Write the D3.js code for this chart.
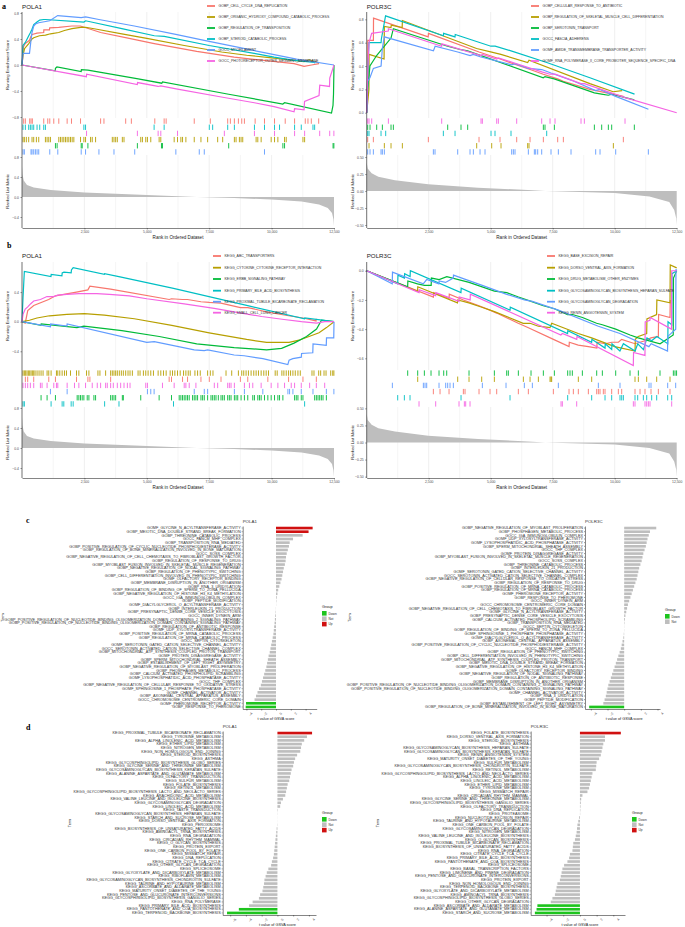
<!DOCTYPE html>
<html><head><meta charset="utf-8">
<script src="https://cdn.jsdelivr.net/npm/d3@7"></script>
<style>body{margin:0;background:#fff} svg{font-family:"Liberation Sans",Arial,sans-serif}</style>
</head><body>
<svg width="685" height="927"></svg>
<script>
var colors = ["#F8766D", "#B79F00", "#00BA38", "#00BFC4", "#619CFF", "#F564E3"];
var rankTicks = [2500, 5000, 7500, 10000, 12500];

// ---------- ranked list metric (shared by a and b) ----------
var metricPola = [[0,0.62],[20,0.45],[70,0.33],[200,0.24],[470,0.19],[1150,0.14],[2500,0.09],[4500,0.05],[6000,0.02],[7000,0.0],[8500,-0.02],[10000,-0.05],[11200,-0.09],[11900,-0.15],[12250,-0.22],[12420,-0.32],[12480,-0.45],[12500,-0.58]];
var metricPolr3c = [[0,0.42],[40,0.33],[200,0.26],[470,0.21],[1140,0.16],[2480,0.1],[4490,0.05],[6500,0.015],[7200,0],[10000,-0.03],[11400,-0.08],[12200,-0.16],[12400,-0.28],[12480,-0.4],[12500,-0.5]];

// ---------- a: POLA1 GO ----------
var polaGoSets = ["GOBP_CELL_CYCLE_DNA_REPLICATION","GOBP_ORGANIC_HYDROXY_COMPOUND_CATABOLIC_PROCESS","GOBP_REGULATION_OF_TRANSPOSITION","GOBP_STEROID_CATABOLIC_PROCESS","GOCC_MYOFILAMENT","GOCC_PHOTORECEPTOR_OUTER_SEGMENT_MEMBRANE"];
var polaGoES = [
  [[0,0],[60,0.28],[130,0.33],[300,0.38],[360,0.44],[410,0.47],[600,0.49],[870,0.5],[875,0.54],[1100,0.54],[1110,0.57],[1470,0.58],[2000,0.6],[2340,0.6],[3150,0.5],[4150,0.42],[5300,0.33],[7000,0.21],[8500,0.12],[9700,0.07],[10900,0.02],[11300,-0.02],[11600,0.0],[11900,0.02]],
  [[0,0],[40,0.15],[100,0.25],[270,0.33],[400,0.4],[470,0.42],[700,0.45],[940,0.46],[1140,0.48],[1470,0.5],[1700,0.53],[2000,0.56],[2350,0.58],[2550,0.58],[3000,0.55],[4000,0.48],[5000,0.41],[6500,0.3],[8000,0.2],[9000,0.15],[10000,0.11],[10500,0.09],[11300,0.05],[11500,0.08],[11900,0.03]],
  [[0,0],[1330,-0.09],[1340,-0.05],[1400,-0.03],[2370,-0.1],[2380,-0.07],[2640,-0.08],[4600,-0.21],[5600,-0.28],[5630,-0.26],[8280,-0.45],[10450,-0.6],[10520,-0.58],[12400,-0.74],[12460,-0.62],[12480,-0.45],[12500,0]],
  [[0,0],[40,0.3],[140,0.35],[270,0.45],[340,0.5],[400,0.55],[470,0.62],[600,0.66],[710,0.69],[870,0.7],[940,0.7],[2480,0.66],[2550,0.68],[4000,0.56],[5300,0.45],[5700,0.44],[7500,0.3],[9300,0.18],[10100,0.12],[10900,0.07],[11200,0.06],[11700,0.04],[11750,0.03]],
  [[0,0],[40,0.18],[300,0.18],[360,0.38],[400,0.5],[470,0.6],[540,0.63],[670,0.65],[1110,0.68],[1430,0.76],[2370,0.73],[2550,0.74],[3080,0.7],[4500,0.6],[6160,0.47],[7300,0.38],[9700,0.19],[11000,0.09],[12500,0]],
  [[0,0],[2580,-0.18],[2590,-0.14],[4620,-0.3],[4630,-0.27],[5450,-0.33],[5560,-0.32],[6230,-0.37],[8100,-0.5],[9310,-0.58],[10100,-0.64],[10900,-0.72],[10920,-0.67],[11300,-0.69],[11320,-0.56],[11900,-0.47],[11930,-0.31],[12320,-0.33],[12330,-0.2],[12500,0]]
];
var polaGoHits = [
  [67,134,308,362,415,871,1032,1112,1273,1474,1809,1983,2345,3149,3283,4154,4382,5320,5695,5775,6901,7544,8241,8348,8509,8670,8804,8911,9340,9715,10117,10546,10921,11350,11457,11591,11886],
  [40,94,174,268,402,469,576,670,938,1005,1072,1139,1474,1541,1608,1675,1742,1809,1876,1943,2010,2077,2345,2479,2546,2747,2814,2948,3618,3685,3752,3819,4020,4087,4757,4824,4958,5025,5159,5494,5561,6097,6231,6365,6432,6566,6901,7169,7437,7839,8040,8509,8576,8710,8777,8844,9380,9447,9581,9983,10117,10251,10519,10586,11256,11323],
  [1340,1407,2372,2412,2640,4623,5588,5628,8281,10452,10519,12462,12495],
  [40,134,268,335,402,469,603,710,871,938,2479,2546,5293,5695,7504,7638,8241,8509,9313,9715,10117,10318,10921,11189,11658,11725],
  [40,94,362,402,469,536,603,670,1112,1434,2372,2546,3082,3685,4516,6164,7102,7303,9715],
  [2586,4623,5454,5561,6231,8107,9313,10117,10921,11323,11926,12328,12495]
];
var polaGoRows = [0, 3, 5, 1, 2, 4];

// ---------- a: POLR3C GO ----------
var polr3cGoSets = ["GOBP_CELLULAR_RESPONSE_TO_ANTIBIOTIC","GOBP_REGULATION_OF_SKELETAL_MUSCLE_CELL_DIFFERENTIATION","GOBP_SEROTONIN_TRANSPORT","GOCC_FASCIA_ADHERENS","GOMF_AMIDE_TRANSMEMBRANE_TRANSPORTER_ACTIVITY","GOMF_RNA_POLYMERASE_II_CORE_PROMOTER_SEQUENCE_SPECIFIC_DNA"];
var polr3cGoES = [
  [[0,0],[40,0.33],[45,0.62],[270,0.62],[275,0.81],[2480,0.65],[2490,0.68],[4530,0.52],[5380,0.46],[6050,0.41],[6590,0.37],[7120,0.33],[7700,0.29],[7930,0.27],[9000,0.2],[10350,0.14]],
  [[0,0],[90,0.2],[95,0.5],[700,0.46],[712,0.74],[980,0.73],[990,0.75],[1430,0.73],[1440,0.79],[4430,0.55],[5040,0.52],[5410,0.5],[6490,0.43],[6545,0.45],[9000,0.25],[9940,0.18],[10300,0.19]],
  [[0,0],[40,0.2],[130,0.4],[400,0.49],[630,0.55],[980,0.64],[1075,0.72],[3260,0.57],[3800,0.54],[4070,0.53],[7120,0.3],[7190,0.31],[7560,0.29],[9180,0.17],[9470,0.16],[9740,0.15],[9880,0.16],[10790,0.11]],
  [[0,0],[40,0.3],[90,0.6],[580,0.6],[590,0.63],[760,0.83],[3090,0.66],[3100,0.68],[3560,0.65],[3570,0.67],[5010,0.57],[5180,0.57],[5820,0.53],[7260,0.43],[9000,0.3],[10800,0.16]],
  [[0,0],[40,0.27],[130,0.3],[270,0.38],[580,0.4],[630,0.55],[710,0.65],[2690,0.53],[2760,0.57],[3670,0.52],[4170,0.49],[4300,0.5],[4570,0.48],[5850,0.41],[5980,0.42],[6520,0.38],[7060,0.37],[7430,0.34],[8240,0.28],[9230,0.19],[9400,0.2],[10040,0.14],[11360,0.03]],
  [[0,0],[40,0.35],[95,0.6],[200,0.68],[870,0.7],[875,0.72],[3020,0.57],[3030,0.59],[4610,0.49],[4660,0.5],[5240,0.46],[5310,0.47],[6050,0.42],[7060,0.35],[7390,0.33],[7600,0.33],[8640,0.25],[8780,0.25],[10420,0.13],[12500,0]]
];
var polr3cGoHits = [
  [40,269,2486,4529,5376,6048,6586,7123,7701,7930,10349],
  [94,712,981,1438,4435,5040,5416,6491,6545,9946],
  [40,134,403,632,981,1075,3266,3803,4072,7123,7190,7567,9180,9475,9744,9878,10792],
  [40,94,578,766,3091,3562,5013,5174,5819,7258],
  [40,134,269,578,632,712,2688,2755,3669,4166,4301,4570,4771,5846,5914,5981,6518,6760,6814,6895,7056,7432,7728,8239,9233,9408,10040,11357],
  [40,94,202,874,3024,4610,4664,5242,5309,6048,7056,7392,7594,8642,8776,10416]
];
var polr3cGoRows = [5, 2, 3, 0, 1, 4];

// ---------- b: POLA1 KEGG ----------
var polaKeggSets = ["KEGG_ABC_TRANSPORTERS","KEGG_CYTOKINE_CYTOKINE_RECEPTOR_INTERACTION","KEGG_ERBB_SIGNALING_PATHWAY","KEGG_PRIMARY_BILE_ACID_BIOSYNTHESIS","KEGG_PROXIMAL_TUBULE_BICARBONATE_RECLAMATION","KEGG_SMALL_CELL_LUNG_CANCER"];
var polaKeggES = [
  [[0,0],[130,-0.02],[230,0.15],[470,0.22],[1070,0.3],[1340,0.35],[2180,0.4],[2640,0.43],[2720,0.48],[3550,0.44],[5900,0.3],[5990,0.31],[6430,0.3],[6630,0.3],[7170,0.27],[7500,0.26],[7970,0.25],[8750,0.19],[9050,0.19],[9850,0.13],[10680,0.08],[11260,0.05],[11780,0.01],[11790,0.04]],
  [[0,0],[300,0.02],[600,0.05],[1100,0.08],[1800,0.1],[2500,0.11],[3300,0.09],[4500,0.04],[6000,-0.05],[7500,-0.15],[9000,-0.24],[9800,-0.28],[10700,-0.28],[11100,-0.25],[11500,-0.2],[11900,-0.15],[12200,-0.08],[12500,0]],
  [[0,0],[760,-0.05],[770,-0.03],[2200,-0.08],[2480,-0.06],[4000,-0.12],[5500,-0.2],[7000,-0.3],[8500,-0.35],[9800,-0.38],[10400,-0.36],[10900,-0.29],[11400,-0.2],[11800,-0.1],[12000,0.02],[12500,0]],
  [[0,0],[40,0.32],[94,0.68],[1160,0.61],[1170,0.64],[1600,0.62],[1610,0.66],[1680,0.67],[1970,0.66],[1980,0.7],[2050,0.73],[3300,0.64],[3310,0.65],[3880,0.61],[6070,0.45],[9000,0.22],[11320,0.04],[11330,0.05],[12500,0]],
  [[0,0],[1140,-0.07],[1150,-0.03],[1800,-0.06],[1810,-0.03],[5000,-0.28],[5300,-0.27],[6900,-0.38],[7300,-0.39],[7440,-0.38],[8500,-0.45],[8900,-0.46],[9650,-0.5],[10650,-0.58],[10700,-0.52],[10850,-0.5],[11190,-0.48],[11200,-0.43],[11650,-0.42],[11660,-0.3],[12190,-0.32],[12200,-0.22],[12490,-0.22],[12500,0]],
  [[0,0],[40,0.1],[130,0.17],[230,0.2],[340,0.24],[470,0.28],[740,0.3],[1000,0.34],[1270,0.34],[1430,0.36],[1800,0.37],[2280,0.38],[3000,0.38],[3500,0.37],[4300,0.35],[5000,0.31],[6500,0.24],[7700,0.18],[8900,0.11],[9600,0.07],[10500,0.03],[11200,0.0],[11800,-0.02],[12130,0.0],[12500,0]]
];
var polaKeggHits = [
  [134,228,469,1072,1340,2184,2640,2720,3551,5896,5990,6432,6633,7169,7504,7973,8750,9045,9849,10680,11256,11792],
  [40,94,147,201,255,308,362,415,469,523,603,683,764,844,1005,1072,1166,1380,1434,1514,1608,1702,1782,1943,2184,2278,2586,2680,3042,3122,3350,3551,3618,3685,3752,3819,3899,3980,4060,4154,4248,4328,4422,4650,4730,4864,4958,5052,5159,5266,5454,5561,5668,5775,5936,6030,6124,6231,6338,6472,6566,6660,6740,6928,7035,7142,7437,7544,7651,8174,8402,8670,8804,8884,8978,9072,9179,9286,9380,9474,9581,9688,9782,9876,10144,10224,10412,10492,10586,10680,10760,10854,10948,11055,11149,11618,11698,11886,11966,12100,12181,12368,12449,12495],
  [764,1005,1340,2211,2278,2345,2412,2479,2613,2680,2881,2948,3551,3618,3685,3752,4020,4060,4757,5494,5990,6298,6365,6432,6499,6566,6633,6700,6834,6901,6968,7035,7169,7236,7303,7437,7571,7638,7705,7772,7866,7973,8040,8107,8241,8308,8375,8509,8576,8643,8777,8911,9045,9246,9313,9447,9514,9581,9715,9849,9983,10117,10251,10318,10452,10921,10988,11055,11189,11256,11725,11792,11859,11926,11993,12060,12194],
  [40,94,1166,1608,1675,1970,2050,3310,3886,6070,11323],
  [1139,1809,5025,5159,5293,6901,7303,7437,8509,8911,9648,10653,10720,10854,11189,11658,12194,12495],
  [40,134,228,335,469,737,804,1005,1273,1380,1434,1809,2103,2278,2546,2814,3015,3149,3350,3417,3551,3658,3819,3953,4087,4221,4328,4958,5025,5628,6097,6499,6566,6700,6968,7705,7839,8241,8308,8375,8509,8911,9112,9246,9581,9983,10251,10519,10787,10921,11189,11524,11792,12127]
];
var polaKeggRows = [1, 0, 5, 4, 2, 3];

// ---------- b: POLR3C KEGG ----------
var polr3cKeggSets = ["KEGG_BASE_EXCISION_REPAIR","KEGG_DORSO_VENTRAL_AXIS_FORMATION","KEGG_DRUG_METABOLISM_OTHER_ENZYMES","KEGG_GLYCOSAMINOGLYCAN_BIOSYNTHESIS_HEPARAN_SULFATE","KEGG_GLYCOSAMINOGLYCAN_DEGRADATION","KEGG_RENIN_ANGIOTENSIN_SYSTEM"];
var polr3cKeggES = [
  [[0,0],[2690,-0.18],[2700,-0.15],[3320,-0.19],[3330,-0.16],[3900,-0.2],[4530,-0.24],[4970,-0.27],[5240,-0.29],[6110,-0.36],[6520,-0.39],[7530,-0.47],[8160,-0.52],[8170,-0.49],[8530,-0.51],[8940,-0.52],[9280,-0.53],[9290,-0.49],[9610,-0.5],[9880,-0.49],[10150,-0.49],[10280,-0.47],[10820,-0.5],[11020,-0.49],[11220,-0.48],[11460,-0.46],[11760,-0.45],[11770,-0.3],[12230,-0.32],[12240,-0.2]],
  [[0,0],[2050,-0.14],[2060,-0.11],[3660,-0.22],[3670,-0.2],[4120,-0.22],[4640,-0.25],[5150,-0.28],[6310,-0.36],[6590,-0.36],[6920,-0.38],[7390,-0.39],[7460,-0.36],[8530,-0.43],[9070,-0.46],[10000,-0.52],[10820,-0.55],[10830,-0.47],[10950,-0.45],[11290,-0.43],[11300,-0.33],[11690,-0.3],[11700,-0.2],[12230,-0.22],[12240,0.04],[12500,0.02]],
  [[0,0],[1650,-0.11],[1660,-0.07],[2050,-0.09],[2330,-0.1],[2600,-0.1],[2610,-0.05],[2920,-0.06],[3230,-0.04],[4130,-0.08],[5150,-0.14],[5650,-0.15],[6120,-0.18],[6630,-0.21],[7120,-0.24],[7570,-0.26],[8100,-0.3],[8300,-0.3],[8700,-0.32],[9270,-0.36],[9500,-0.37],[10040,-0.4],[10620,-0.44],[10950,-0.46],[11830,-0.5],[12360,-0.44],[12370,-0.05],[12500,0]],
  [[0,0],[1250,-0.09],[1260,-0.03],[1520,-0.05],[1530,-0.02],[1750,-0.04],[1760,0.0],[3800,-0.15],[3810,-0.12],[5780,-0.27],[5790,-0.25],[8100,-0.43],[8110,-0.41],[9070,-0.49],[9080,-0.47],[9610,-0.53],[9620,-0.5],[9880,-0.54],[9890,-0.5],[10210,-0.55],[10350,-0.5],[10820,-0.55],[10930,-0.5],[11160,-0.54],[11300,-0.46],[11490,-0.48],[11700,-0.45],[12140,-0.5],[12150,-0.35],[12300,-0.37],[12310,-0.02],[12500,0]],
  [[0,0],[1030,-0.09],[1040,-0.01],[2280,-0.09],[2420,-0.06],[2910,-0.09],[2920,-0.07],[3180,-0.08],[3490,-0.05],[3500,-0.03],[4660,-0.1],[5620,-0.16],[6360,-0.2],[6680,-0.21],[7730,-0.27],[9340,-0.38],[10210,-0.43],[11380,-0.52],[11470,-0.5],[12130,-0.55],[12140,-0.45],[12460,-0.4],[12470,0.01],[12500,0]],
  [[0,0],[2110,-0.15],[2120,-0.13],[2780,-0.17],[2790,-0.15],[3720,-0.21],[3730,-0.18],[4170,-0.2],[4180,-0.16],[7830,-0.44],[7890,-0.43],[8470,-0.47],[8480,-0.45],[10750,-0.65],[10760,-0.56],[11220,-0.58],[11230,-0.35],[11420,-0.34],[11430,-0.32],[12290,-0.4],[12300,0.0],[12500,0]]
];
var polr3cKeggHits = [
  [2688,2957,3320,3898,3965,4529,4973,5242,6115,6518,7526,8158,8333,8534,8938,9274,9341,9408,9542,9610,9878,10147,10282,10819,11021,11222,11464,11760,12230],
  [2056,3669,4126,4637,5148,6317,6586,6922,7392,7432,7459,8534,9072,10819,10954,11290,11693,12230],
  [1653,2056,2325,2594,2916,3105,3226,4126,5148,5645,5712,6115,6626,7123,7567,8104,8198,8292,8696,9274,9502,10040,10618,10954,11827,12365,12432,12495],
  [1250,1519,1747,3804,5779,8104,9072,9610,9878,10214,10282,10349,10819,10927,11155,11290,11491,11693,12136,12298],
  [1035,2285,2352,2419,2916,3185,3266,3360,3494,4664,5618,6357,6680,7728,9341,10214,11384,11464,12136,12459],
  [2110,2782,3723,3938,3992,4166,7836,7889,8467,10752,10819,11222,11290,11357,11424,12298]
];
var polr3cKeggRows = [2, 1, 4, 0, 3, 5];

// ---------- c: GO GSVA t values ----------
var cPolaTerms = ["GOMF_GLYCINE_N_ACYLTRANSFERASE_ACTIVITY","GOBP_MEIOTIC_DNA_DOUBLE_STRAND_BREAK_FORMATION","GOBP_THREONINE_CATABOLIC_PROCESS","GOCC_FANCM_MHF_COMPLEX","GOBP_TRANSPOSITION_RNA_MEDIATED","GOBP_POSITIVE_REGULATION_OF_CYCLIC_NUCLEOTIDE_PHOSPHODIESTERASE_ACTIVITY","GOBP_REGULATION_OF_BONE_MINERALIZATION_INVOLVED_IN_BONE_MATURATION","GOCC_SOSS_COMPLEX","GOBP_NEGATIVE_REGULATION_OF_CELL_CHEMOTAXIS_TO_FIBROBLAST_GROWTH_FACTOR","GOBP_REGULATION_OF_RESPONSE_TO_DRUG","GOBP_MYOBLAST_FUSION_INVOLVED_IN_SKELETAL_MUSCLE_REGENERATION","GOBP_NEGATIVE_REGULATION_OF_NODAL_SIGNALING_PATHWAY","GOBP_REGULATION_OF_PHENOTYPIC_SWITCHING","GOBP_CELL_DIFFERENTIATION_INVOLVED_IN_PHENOTYPIC_SWITCHING","GOMF_OLFACTORY_RECEPTOR_BINDING","GOBP_MEMBRANE_DISRUPTION_IN_ANOTHER_ORGANISM","GOBP_RNA_3_URIDYLATION","GOBP_REGULATION_OF_BINDING_OF_SPERM_TO_ZONA_PELLUCIDA","GOBP_NEGATIVE_REGULATION_OF_HISTONE_H3_K4_METHYLATION","GOCC_IGA_IMMUNOGLOBULIN_COMPLEX","GOBP_PEPTIDE_MODIFICATION","GOMF_DIACYLGLYCEROL_O_ACYLTRANSFERASE_ACTIVITY","GOBP_INTERLEUKIN_21_PRODUCTION","GOBP_PRESYNAPTIC_DENSE_CORE_VESICLE_EXOCYTOSIS","GOCC_INNER_DYNEIN_ARM","GOBP_POSITIVE_REGULATION_OF_NUCLEOTIDE_BINDING_OLIGOMERIZATION_DOMAIN_CONTAINING_2_SIGNALING_PATHWAY","GOBP_POSITIVE_REGULATION_OF_NUCLEOTIDE_BINDING_OLIGOMERIZATION_DOMAIN_CONTAINING_SIGNALING_PATHWAY","GOBP_REGULATION_OF_ANTIBIOTIC_RESPONSE","GOMF_UDP_XYLOSYLTRANSFERASE_ACTIVITY","GOBP_POSITIVE_REGULATION_OF_MRNA_CATABOLIC_PROCESS","GOBP_REGULATION_OF_MRNA_CATABOLIC_PROCESS","GOCC_SEPTIN_CYTOSKELETON","GOMF_SEROTONIN_GATED_CATION_SELECTIVE_CHANNEL_ACTIVITY","GOCC_SEROTONIN_ACTIVATED_CATION_SELECTIVE_CHANNEL_COMPLEX","GOBP_MITOCHONDRIAL_ATP_SYNTHESIS_COUPLED_PROTON_TRANSPORT","GOMF_PROTEIN_DISAGGREGASE_ACTIVITY","GOBP_SPERM_MITOCHONDRIAL_SHEATH_ASSEMBLY","GOBP_ESTABLISHMENT_OF_LEFT_RIGHT_ASYMMETRY","GOBP_NEGATIVE_REGULATION_OF_MYOBLAST_PROLIFERATION","GOBP_PHOSPHAGEN_METABOLIC_PROCESS","GOBP_CALCIUM_ACTIVATED_PHOSPHOLIPID_SCRAMBLING","GOMF_LYSOPHOSPHATIDIC_ACID_PHOSPHATASE_ACTIVITY","GOCC_THF_COMPLEX","GOBP_NEGATIVE_REGULATION_OF_CELLULAR_RESPONSE_TO_OXIDATIVE_STRESS","GOMF_SPHINGOSINE_1_PHOSPHATE_PHOSPHATASE_ACTIVITY","GOMF_CHANNEL_ACTIVATOR_ACTIVITY","GOBP_AXONEMAL_CENTRAL_APPARATUS_ASSEMBLY","GOCC_CHROMOSOME_CENTROMERIC_CORE_DOMAIN","GOMF_PHEROMONE_RECEPTOR_ACTIVITY","GOBP_RESPONSE_TO_PHEROMONE"];
var cPolaT = [4.95,4.4,3.6,2.3,1.85,1.75,1.6,1.45,1.35,1.3,1.2,1.05,0.95,0.85,0.75,0.6,0.45,0.3,0.2,0.1,0.05,0.02,-0.02,-0.05,-0.1,-0.15,-0.2,-0.25,-0.3,-0.35,-0.45,-0.55,-0.65,-0.75,-0.85,-1.0,-1.1,-1.2,-1.3,-1.45,-1.6,-1.75,-1.9,-2.05,-2.3,-2.5,-2.7,-2.9,-4.05,-4.1];

var cPolr3cTerms = ["GOBP_NEGATIVE_REGULATION_OF_MYOBLAST_PROLIFERATION","GOBP_PHOSPHAGEN_METABOLIC_PROCESS","GOCC_IGA_IMMUNOGLOBULIN_COMPLEX","GOMF_UDP_XYLOSYLTRANSFERASE_ACTIVITY","GOMF_LYSOPHOSPHATIDIC_ACID_PHOSPHATASE_ACTIVITY","GOBP_SPERM_MITOCHONDRIAL_SHEATH_ASSEMBLY","GOCC_THF_COMPLEX","GOMF_PROTEIN_DISAGGREGASE_ACTIVITY","GOBP_MYOBLAST_FUSION_INVOLVED_IN_SKELETAL_MUSCLE_REGENERATION","GOCC_SOSS_COMPLEX","GOBP_THREONINE_CATABOLIC_PROCESS","GOBP_INTERLEUKIN_21_PRODUCTION","GOMF_SEROTONIN_GATED_CATION_SELECTIVE_CHANNEL_ACTIVITY","GOCC_SEROTONIN_ACTIVATED_CATION_SELECTIVE_CHANNEL_COMPLEX","GOBP_NEGATIVE_REGULATION_OF_CELLULAR_RESPONSE_TO_OXIDATIVE_STRESS","GOBP_REGULATION_OF_RESPONSE_TO_DRUG","GOBP_POSITIVE_REGULATION_OF_MRNA_CATABOLIC_PROCESS","GOBP_REGULATION_OF_MRNA_CATABOLIC_PROCESS","GOMF_PHEROMONE_RECEPTOR_ACTIVITY","GOBP_RESPONSE_TO_PHEROMONE","GOCC_INNER_DYNEIN_ARM","GOCC_CHROMOSOME_CENTROMERIC_CORE_DOMAIN","GOBP_NEGATIVE_REGULATION_OF_CELL_CHEMOTAXIS_TO_FIBROBLAST_GROWTH_FACTOR","GOMF_GLYCINE_N_ACYLTRANSFERASE_ACTIVITY","GOBP_PRESYNAPTIC_DENSE_CORE_VESICLE_EXOCYTOSIS","GOBP_CALCIUM_ACTIVATED_PHOSPHOLIPID_SCRAMBLING","GOBP_TRANSPOSITION_RNA_MEDIATED","GOCC_SEPTIN_CYTOSKELETON","GOBP_REGULATION_OF_BINDING_OF_SPERM_TO_ZONA_PELLUCIDA","GOMF_SPHINGOSINE_1_PHOSPHATE_PHOSPHATASE_ACTIVITY","GOMF_DIACYLGLYCEROL_O_ACYLTRANSFERASE_ACTIVITY","GOBP_AXONEMAL_CENTRAL_APPARATUS_ASSEMBLY","GOBP_POSITIVE_REGULATION_OF_CYCLIC_NUCLEOTIDE_PHOSPHODIESTERASE_ACTIVITY","GOCC_FANCM_MHF_COMPLEX","GOBP_REGULATION_OF_PHENOTYPIC_SWITCHING","GOBP_CELL_DIFFERENTIATION_INVOLVED_IN_PHENOTYPIC_SWITCHING","GOBP_MITOCHONDRIAL_ATP_SYNTHESIS_COUPLED_PROTON_TRANSPORT","GOBP_MEIOTIC_DNA_DOUBLE_STRAND_BREAK_FORMATION","GOBP_NEGATIVE_REGULATION_OF_HISTONE_H3_K4_METHYLATION","GOMF_OLFACTORY_RECEPTOR_BINDING","GOBP_NEGATIVE_REGULATION_OF_NODAL_SIGNALING_PATHWAY","GOBP_REGULATION_OF_ANTIBIOTIC_RESPONSE","GOBP_MEMBRANE_DISRUPTION_IN_ANOTHER_ORGANISM","GOBP_POSITIVE_REGULATION_OF_NUCLEOTIDE_BINDING_OLIGOMERIZATION_DOMAIN_CONTAINING_2_SIGNALING_PATHWAY","GOBP_POSITIVE_REGULATION_OF_NUCLEOTIDE_BINDING_OLIGOMERIZATION_DOMAIN_CONTAINING_SIGNALING_PATHWAY","GOMF_CHANNEL_ACTIVATOR_ACTIVITY","GOBP_RNA_3_URIDYLATION","GOBP_PEPTIDE_MODIFICATION","GOBP_ESTABLISHMENT_OF_LEFT_RIGHT_ASYMMETRY","GOBP_REGULATION_OF_BONE_MINERALIZATION_INVOLVED_IN_BONE_MATURATION"];
var cPolr3cT = [3.85,3.1,2.95,2.8,2.7,2.6,2.45,2.3,2.2,2.1,1.95,1.8,1.7,1.6,1.5,1.35,1.2,1.05,0.9,0.75,0.6,0.45,0.35,0.25,0.15,0.1,0.05,0.02,-0.02,-0.05,-0.1,-0.2,-0.3,-0.4,-0.55,-0.7,-0.85,-1.0,-1.15,-1.3,-1.45,-1.6,-1.75,-1.9,-2.0,-2.1,-2.2,-2.35,-2.5,-4.2];

// ---------- d: KEGG GSVA t values ----------
var dPolaTerms = ["KEGG_PROXIMAL_TUBULE_BICARBONATE_RECLAMATION","KEGG_TYROSINE_METABOLISM","KEGG_ALPHA_LINOLENIC_ACID_METABOLISM","KEGG_ETHER_LIPID_METABOLISM","KEGG_NITROGEN_METABOLISM","KEGG_NON_HOMOLOGOUS_END_JOINING","KEGG_STEROID_BIOSYNTHESIS","KEGG_ASTHMA","KEGG_GLYCOSPHINGOLIPID_BIOSYNTHESIS_GLOBO_SERIES","KEGG_GLYCINE_SERINE_AND_THREONINE_METABOLISM","KEGG_GLYCOSAMINOGLYCAN_BIOSYNTHESIS_KERATAN_SULFATE","KEGG_ALANINE_ASPARTATE_AND_GLUTAMATE_METABOLISM","KEGG_OLFACTORY_TRANSDUCTION","KEGG_SULFUR_METABOLISM","KEGG_FOLATE_BIOSYNTHESIS","KEGG_RETINOL_METABOLISM","KEGG_GLYCOSPHINGOLIPID_BIOSYNTHESIS_LACTO_AND_NEOLACTO_SERIES","KEGG_ARACHIDONIC_ACID_METABOLISM","KEGG_VALINE_LEUCINE_AND_ISOLEUCINE_BIOSYNTHESIS","KEGG_GLYCOSAMINOGLYCAN_DEGRADATION","KEGG_LINOLEIC_ACID_METABOLISM","KEGG_TASTE_TRANSDUCTION","KEGG_GLYCOSAMINOGLYCAN_BIOSYNTHESIS_HEPARAN_SULFATE","KEGG_STARCH_AND_SUCROSE_METABOLISM","KEGG_DORSO_VENTRAL_AXIS_FORMATION","KEGG_PEROXISOME","KEGG_BIOSYNTHESIS_OF_UNSATURATED_FATTY_ACIDS","KEGG_AMINOACYL_TRNA_BIOSYNTHESIS","KEGG_RNA_DEGRADATION","KEGG_CIRCADIAN_RHYTHM_MAMMAL","KEGG_O_GLYCAN_BIOSYNTHESIS","KEGG_PROTEIN_EXPORT","KEGG_ONE_CARBON_POOL_BY_FOLATE","KEGG_MISMATCH_REPAIR","KEGG_DNA_REPLICATION","KEGG_CITRATE_CYCLE_TCA_CYCLE","KEGG_OTHER_GLYCAN_DEGRADATION","KEGG_SPLICEOSOME","KEGG_GLYOXYLATE_AND_DICARBOXYLATE_METABOLISM","KEGG_RIBOFLAVIN_METABOLISM","KEGG_GLYCOSAMINOGLYCAN_BIOSYNTHESIS_CHONDROITIN_SULFATE","KEGG_TAURINE_AND_HYPOTAURINE_METABOLISM","KEGG_ASCORBATE_AND_ALDARATE_METABOLISM","KEGG_MATURITY_ONSET_DIABETES_OF_THE_YOUNG","KEGG_PENTOSE_AND_GLUCURONATE_INTERCONVERSIONS","KEGG_GLYCOSPHINGOLIPID_BIOSYNTHESIS_GANGLIO_SERIES","KEGG_RNA_POLYMERASE","KEGG_PRIMARY_BILE_ACID_BIOSYNTHESIS","KEGG_PANTOTHENATE_AND_COA_BIOSYNTHESIS","KEGG_TERPENOID_BACKBONE_BIOSYNTHESIS"];
var dPolaT = [4.4,3.75,3.4,3.1,3.0,2.9,2.5,2.25,2.1,2.0,1.8,1.7,1.6,1.5,1.3,1.2,1.1,1.0,0.7,0.45,0.35,0.05,0.02,0.01,-0.01,-0.03,-0.1,-0.15,-0.2,-0.25,-0.3,-0.35,-0.4,-0.45,-0.55,-0.7,-0.8,-1.15,-1.35,-1.5,-1.65,-1.7,-1.8,-1.9,-2.2,-2.35,-3.15,-3.6,-4.9,-6.4];

var dPolr3cTerms = ["KEGG_FOLATE_BIOSYNTHESIS","KEGG_DORSO_VENTRAL_AXIS_FORMATION","KEGG_STEROID_BIOSYNTHESIS","KEGG_ASTHMA","KEGG_GLYCOSAMINOGLYCAN_BIOSYNTHESIS_HEPARAN_SULFATE","KEGG_GLYCOSAMINOGLYCAN_BIOSYNTHESIS_KERATAN_SULFATE","KEGG_RENIN_ANGIOTENSIN_SYSTEM","KEGG_MATURITY_ONSET_DIABETES_OF_THE_YOUNG","KEGG_SULFUR_METABOLISM","KEGG_GLYCOSAMINOGLYCAN_BIOSYNTHESIS_CHONDROITIN_SULFATE","KEGG_RETINOL_METABOLISM","KEGG_GLYCOSPHINGOLIPID_BIOSYNTHESIS_LACTO_AND_NEOLACTO_SERIES","KEGG_ALPHA_LINOLENIC_ACID_METABOLISM","KEGG_LINOLEIC_ACID_METABOLISM","KEGG_ETHER_LIPID_METABOLISM","KEGG_TYROSINE_METABOLISM","KEGG_MISMATCH_REPAIR","KEGG_CIRCADIAN_RHYTHM_MAMMAL","KEGG_GLYCINE_SERINE_AND_THREONINE_METABOLISM","KEGG_GLYCOSPHINGOLIPID_BIOSYNTHESIS_GANGLIO_SERIES","KEGG_OLFACTORY_TRANSDUCTION","KEGG_DNA_REPLICATION","KEGG_PROTEASOME","KEGG_NUCLEOTIDE_EXCISION_REPAIR","KEGG_TAURINE_AND_HYPOTAURINE_METABOLISM","KEGG_ONE_CARBON_POOL_BY_FOLATE","KEGG_GLYCOSAMINOGLYCAN_DEGRADATION","KEGG_NITROGEN_METABOLISM","KEGG_VALINE_LEUCINE_AND_ISOLEUCINE_BIOSYNTHESIS","KEGG_O_GLYCAN_BIOSYNTHESIS","KEGG_PROXIMAL_TUBULE_BICARBONATE_RECLAMATION","KEGG_BIOSYNTHESIS_OF_UNSATURATED_FATTY_ACIDS","KEGG_RNA_DEGRADATION","KEGG_CITRATE_CYCLE_TCA_CYCLE","KEGG_PRIMARY_BILE_ACID_BIOSYNTHESIS","KEGG_PANTOTHENATE_AND_COA_BIOSYNTHESIS","KEGG_SPLICEOSOME","KEGG_BASAL_TRANSCRIPTION_FACTORS","KEGG_LIMONENE_AND_PINENE_DEGRADATION","KEGG_PENTOSE_AND_GLUCURONATE_INTERCONVERSIONS","KEGG_PROTEIN_EXPORT","KEGG_NON_HOMOLOGOUS_END_JOINING","KEGG_TERPENOID_BACKBONE_BIOSYNTHESIS","KEGG_GLYOXYLATE_AND_DICARBOXYLATE_METABOLISM","KEGG_AMINOACYL_TRNA_BIOSYNTHESIS","KEGG_GLYCOSPHINGOLIPID_BIOSYNTHESIS_GLOBO_SERIES","KEGG_OTHER_GLYCAN_DEGRADATION","KEGG_ASCORBATE_AND_ALDARATE_METABOLISM","KEGG_ALANINE_ASPARTATE_AND_GLUTAMATE_METABOLISM","KEGG_STARCH_AND_SUCROSE_METABOLISM"];
var dPolr3cT = [4.9,3.0,3.0,2.8,2.7,2.6,2.5,2.3,2.0,1.95,1.9,1.5,1.4,1.3,1.2,1.1,0.9,0.3,0.15,0.1,0.07,0.05,0.03,-0.1,-0.2,-0.3,-0.35,-0.4,-0.5,-0.6,-0.8,-0.85,-0.9,-1.2,-1.3,-1.5,-1.9,-2.1,-2.2,-2.3,-2.4,-2.7,-2.8,-2.9,-3.0,-3.3,-3.5,-5.1,-5.2,-5.4];

var groupColors = {Down: "#1DC41D", Not: "#BEBEBE", Up: "#D01010"};

var svg = d3.select("svg");
var FONT = "Liberation Sans, Arial, sans-serif";

function styleAxis(a, fs) {
  a.attr("font-family", FONT);
  a.select(".domain").attr("stroke", "#333").attr("stroke-width", 0.6);
  a.selectAll(".tick line").attr("stroke", "#333").attr("stroke-width", 0.5);
  a.selectAll(".tick text").attr("font-size", fs).attr("fill", "#4d4d4d");
}

function gseaPanel(p) {
  var g = svg.append("g");
  var x = d3.scaleLinear().domain([0, 12500]).range([p.x0, p.x1]);
  var yEs = d3.scaleLinear().domain(p.esDomain).range([p.esBot, p.esTop]);
  var yMet = d3.scaleLinear().domain(p.metDomain).range([p.metBot, p.metTop]);
  var grid = d3.range(1250, 12500, 1250);

  // vertical grid in ES and metric panels
  [[p.esTop, p.esBot], [p.metTop, p.metBot]].forEach(function (r) {
    g.selectAll(null).data(grid).enter().append("line")
      .attr("x1", d => x(d)).attr("x2", d => x(d))
      .attr("y1", r[0]).attr("y2", r[1])
      .attr("stroke", "#ebebeb").attr("stroke-width", d => d % 2500 == 0 ? 0.8 : 0.5);
  });

  // running enrichment score curves
  var line = d3.line().x(d => x(d[0])).y(d => yEs(d[1]));
  p.curves.forEach(function (c, i) {
    g.append("path").attr("d", line(c)).attr("fill", "none")
      .attr("stroke", colors[i]).attr("stroke-width", 1.2);
  });

  // hit ticks
  var rowH = (p.hitsBot - p.hitsTop) / 6;
  p.rows.forEach(function (ci, r) {
    var top = p.hitsTop + r * rowH;
    g.selectAll(null).data(p.hits[ci]).enter().append("line")
      .attr("x1", d => x(d)).attr("x2", d => x(d))
      .attr("y1", top + 0.4).attr("y2", top + rowH - 0.4)
      .attr("stroke", colors[ci]).attr("stroke-width", 0.9);
  });

  // ranked list metric
  var area = d3.area().x(d => x(d[0])).y0(yMet(0)).y1(d => yMet(d[1]));
  g.append("path").attr("d", area(p.metric)).attr("fill", "#bebebe");

  // axes
  g.append("line").attr("x1", p.x0).attr("x2", p.x0).attr("y1", p.esTop).attr("y2", p.metBot)
    .attr("stroke", "#333").attr("stroke-width", 0.7);
  var ay = g.append("g").attr("transform", "translate(" + p.x0 + ",0)")
    .call(d3.axisLeft(yEs).tickValues(p.esTicks).tickSize(1.5).tickPadding(1.5).tickFormat(d3.format(p.esFmt)));
  ay.select(".domain").remove();
  styleAxis(ay, 3.4);
  var am = g.append("g").attr("transform", "translate(" + p.x0 + ",0)")
    .call(d3.axisLeft(yMet).tickValues(p.metTicks).tickSize(1.5).tickPadding(1.5).tickFormat(d3.format(p.metFmt)));
  am.select(".domain").remove();
  styleAxis(am, 3.4);
  var ax = g.append("g").attr("transform", "translate(0," + p.metBot + ")")
    .call(d3.axisBottom(x).tickValues(rankTicks).tickSize(1.5).tickPadding(1).tickSizeOuter(0));
  styleAxis(ax, 3.4);

  g.append("text").attr("x", (p.x0 + p.x1) / 2).attr("y", p.metBot + 10.5)
    .attr("text-anchor", "middle").attr("font-size", 4.6).attr("fill", "#222").text("Rank in Ordered Dataset");
  g.append("text").attr("transform", "translate(" + (p.x0 - 13) + "," + (p.esTop + p.esBot) / 2 + ") rotate(-90)")
    .attr("text-anchor", "middle").attr("font-size", 4.2).attr("fill", "#222").text("Running Enrichment Score");
  g.append("text").attr("transform", "translate(" + (p.x0 - 13) + "," + (p.metTop + p.metBot) / 2 + ") rotate(-90)")
    .attr("text-anchor", "middle").attr("font-size", 4.2).attr("fill", "#222").text("Ranked List Metric");
  g.append("text").attr("x", p.x0).attr("y", p.titleY)
    .attr("font-size", 6.2).attr("fill", "#222").text(p.title);

  // legend
  p.sets.forEach(function (s, i) {
    var yy = p.legY[i];
    g.append("line").attr("x1", p.legX).attr("x2", p.legX + 8).attr("y1", yy).attr("y2", yy)
      .attr("stroke", colors[i]).attr("stroke-width", 1.8);
    g.append("text").attr("x", p.legX + 11.5).attr("y", yy + 1.2)
      .attr("font-size", 3.5).attr("fill", "#333").text(s);
  });
}

function group(t) { return t >= 4 ? "Up" : (t <= -4 ? "Down" : "Not"); }

function barPanel(p) {
  var g = svg.append("g");
  var y = d3.scaleBand().domain(p.terms).range([p.top, p.bot]).paddingInner(0.28).paddingOuter(0.2);
  var x = d3.scaleLinear().domain(p.xDomain).range([p.axisX, p.axisEnd]);

  g.selectAll(null).data(p.t).enter().append("rect")
    .attr("x", d => x(Math.min(0, d)))
    .attr("width", d => Math.abs(x(d) - x(0)))
    .attr("y", (d, i) => y(p.terms[i]))
    .attr("height", y.bandwidth())
    .attr("fill", d => groupColors[group(d)]);

  var ay = g.append("g").attr("transform", "translate(" + p.axisX + ",0)")
    .call(d3.axisLeft(y).tickSize(1).tickPadding(1).tickSizeOuter(0));
  styleAxis(ay, 3.8);
  ay.selectAll(".tick text").attr("fill", "#333");
  var ax = g.append("g").attr("transform", "translate(0," + p.bot + ")")
    .call(d3.axisBottom(x).tickValues(p.ticks).tickSize(1.5).tickSizeOuter(0));
  styleAxis(ax, 3.4);
  ax.selectAll(".tick text").attr("text-anchor", "end")
    .attr("transform", "translate(1,1.5) rotate(-60)").attr("dy", "0.3em");

  g.append("text").attr("x", p.axisX).attr("y", p.top - 3)
    .attr("font-size", 4.4).attr("fill", "#333").text(p.title);
  g.append("text").attr("x", x(0)).attr("y", p.bot + 11)
    .attr("text-anchor", "middle").attr("font-size", 3.8).attr("fill", "#222").text("t value of GSVA score");
  g.append("text").attr("transform", "translate(" + p.termX + "," + (p.top + p.bot) / 2 + ") rotate(-90)")
    .attr("text-anchor", "middle").attr("font-size", 3.8).attr("fill", "#222").text("Term");

  // legend
  var lg = g.append("g").attr("transform", "translate(" + p.legX + "," + p.legY + ")");
  lg.append("text").attr("x", 0).attr("y", 0).attr("font-size", 3.8).attr("fill", "#222").text("Group");
  p.groups.forEach(function (k, i) {
    lg.append("rect").attr("x", 0).attr("y", 3 + i * 5.4).attr("width", 4.6).attr("height", 4.6)
      .attr("fill", groupColors[k]);
    lg.append("text").attr("x", 6.5).attr("y", 6.6 + i * 5.4).attr("font-size", 3.2).attr("fill", "#333").text(k);
  });
}

// panel letters
[["a", 2, 9], ["b", 7, 248], ["c", 26, 523], ["d", 26, 730]].forEach(function (l) {
  svg.append("text").attr("x", l[1]).attr("y", l[2]).attr("font-family", "Liberation Serif, Times New Roman, serif")
    .attr("font-weight", "bold").attr("font-size", 8).text(l[0]);
});

gseaPanel({title: "POLA1", titleY: 9, x0: 22, x1: 334, esTop: 12, esBot: 118, hitsTop: 118, hitsBot: 155, metTop: 155, metBot: 228,
  esDomain: [-0.815, 0.815], esTicks: [-0.8, -0.4, 0, 0.4, 0.8], esFmt: ".1f",
  metDomain: [-0.62, 0.84], metTicks: [-0.4, 0, 0.4, 0.8], metFmt: ".1f",
  curves: polaGoES, hits: polaGoHits, rows: polaGoRows, metric: metricPola, sets: polaGoSets,
  legX: 207, legY: [6, 17, 28, 39, 50, 61]});

gseaPanel({title: "POLR3C", titleY: 9, x0: 366.7, x1: 676.7, esTop: 12, esBot: 118, hitsTop: 118, hitsBot: 155, metTop: 155, metBot: 228,
  esDomain: [-0.045, 0.863], esTicks: [0, 0.2, 0.4, 0.6, 0.8], esFmt: ".1f",
  metDomain: [-0.544, 0.53], metTicks: [-0.5, -0.25, 0, 0.25, 0.5], metFmt: ".2f",
  curves: polr3cGoES, hits: polr3cGoHits, rows: polr3cGoRows, metric: metricPolr3c, sets: polr3cGoSets,
  legX: 531, legY: [6, 17, 28, 39, 50, 61]});

gseaPanel({title: "POLA1", titleY: 258, x0: 22, x1: 334, esTop: 262, esBot: 370, hitsTop: 370, hitsBot: 407, metTop: 407, metBot: 478,
  esDomain: [-0.653, 0.807], esTicks: [-0.4, 0, 0.4], esFmt: ".1f",
  metDomain: [-0.6, 0.82], metTicks: [-0.4, 0, 0.4, 0.8], metFmt: ".1f",
  curves: polaKeggES, hits: polaKeggHits, rows: polaKeggRows, metric: metricPola, sets: polaKeggSets,
  legX: 213, legY: [256, 267.7, 279, 290.7, 301.7, 312.7]});

gseaPanel({title: "POLR3C", titleY: 258, x0: 366.7, x1: 676.7, esTop: 262, esBot: 370, hitsTop: 370, hitsBot: 407, metTop: 407, metBot: 478,
  esDomain: [-0.68, 0.06], esTicks: [-0.6, -0.4, -0.2, 0], esFmt: ".1f",
  metDomain: [-0.52, 0.52], metTicks: [-0.5, -0.25, 0, 0.25, 0.5], metFmt: ".2f",
  curves: polr3cKeggES, hits: polr3cKeggHits, rows: polr3cKeggRows, metric: metricPolr3c, sets: polr3cKeggSets,
  legX: 547, legY: [256, 267.7, 279, 290.7, 301.7, 312.7]});

barPanel({title: "POLA1", terms: cPolaTerms, t: cPolaT, top: 526, bot: 709, axisX: 242.7, axisEnd: 316.7,
  xDomain: [-4.5, 5.5], ticks: [-4, -2, 0, 2, 4], termX: 4, legX: 322, legY: 608, groups: ["Down", "Not", "Up"]});
barPanel({title: "POLR3C", terms: cPolr3cTerms, t: cPolr3cT, top: 526, bot: 709, axisX: 585, axisEnd: 660,
  xDomain: [-4.7, 4.3], ticks: [-4, -2, 0, 2, 4], termX: 351, legX: 665, legY: 611, groups: ["Down", "Not"]});
barPanel({title: "POLA1", terms: dPolaTerms, t: dPolaT, top: 731, bot: 915, axisX: 222.7, axisEnd: 316,
  xDomain: [-6.95, 4.9], ticks: [-6, -4, -2, 0, 2, 4], termX: 71, legX: 322, legY: 814, groups: ["Down", "Not", "Up"]});
barPanel({title: "POLR3C", terms: dPolr3cTerms, t: dPolr3cT, top: 731, bot: 915, axisX: 530.7, axisEnd: 625,
  xDomain: [-5.9, 5.4], ticks: [-4, -2, 0, 2, 4], termX: 379, legX: 632, legY: 814, groups: ["Down", "Not", "Up"]});
</script></body></html>
